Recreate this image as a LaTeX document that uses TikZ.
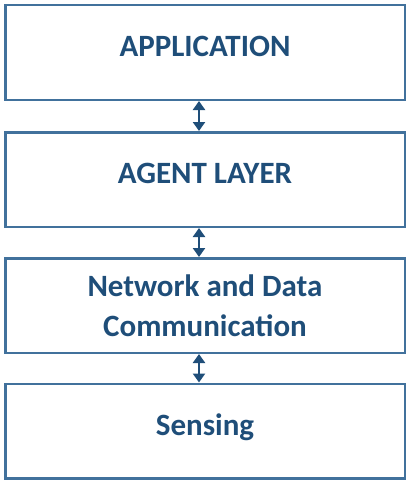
\documentclass[tikz,border=0pt]{standalone}
\usepackage{fontspec}
\setmainfont{Carlito}
\usepackage{xcolor}
\usetikzlibrary{arrows.meta,positioning}

\definecolor{edgeblue}{HTML}{41719C}
\definecolor{textblue}{HTML}{1F4E79}

\begin{document}
\begin{tikzpicture}[
  x=1pt, y=1pt,
  layer/.style={draw=edgeblue, line width=2.5pt, fill=white, minimum width=399.5pt, minimum height=94.5pt, align=center, font=\fontsize{31}{40}\selectfont\bfseries, text=textblue, inner sep=0pt},
  oneline/.style={text height=20pt, text depth=12pt},
  arrow/.style={{Triangle[width=12pt,length=9pt]}-{Triangle[width=12pt,length=9pt]}, line width=2.5pt, draw=textblue},
]
\useasboundingbox (0,0) rectangle (415,-487);
\node[layer, oneline] (L1) at (205,-52.5) {APPLICATION};
\node[layer, oneline] (L2) at (205,-179.5) {AGENT LAYER};
\node[layer] (L3) at (205,-305.5) {Network and Data\\Communication};
\node[layer, oneline] (L4) at (205,-431) {Sensing};
\draw[arrow] ([xshift=-6pt]L1.south) -- ([xshift=-6pt]L2.north);
\draw[arrow] ([xshift=-6pt]L2.south) -- ([xshift=-6pt]L3.north);
\draw[arrow] ([xshift=-6pt]L3.south) -- ([xshift=-6pt]L4.north);
\end{tikzpicture}
\end{document}
